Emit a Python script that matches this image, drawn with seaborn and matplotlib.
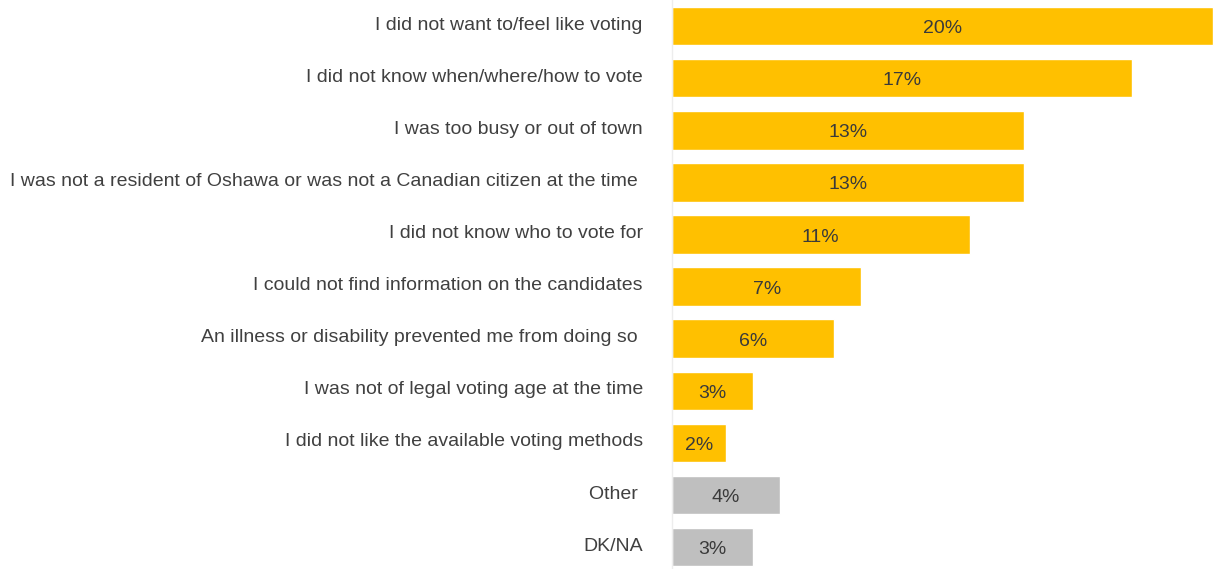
import matplotlib
matplotlib.use("Agg")
import matplotlib.pyplot as plt
import matplotlib.transforms as mtransforms
import seaborn as sns
import pandas as pd

reasons = [
    "I did not want to/feel like voting",
    "I did not know when/where/how to vote",
    "I was too busy or out of town",
    "I was not a resident of Oshawa or was not a Canadian citizen at the time ",
    "I did not know who to vote for",
    "I could not find information on the candidates",
    "An illness or disability prevented me from doing so ",
    "I was not of legal voting age at the time",
    "I did not like the available voting methods",
    "Other ",
    "DK/NA",
]
shares = [20, 17, 13, 13, 11, 7, 6, 3, 2, 4, 3]
bar_colors = ["#FFC000"] * 9 + ["#BFBFBF"] * 2

sns.set_theme(style="white")
plt.rcParams["font.family"] = ["Liberation Sans", "DejaVu Sans"]

df = pd.DataFrame({"reason": reasons, "share": shares})

fig = plt.figure(figsize=(12.14, 5.69), dpi=100)
ax = fig.add_axes([672 / 1214, 0, 542 / 1214, 1])

sns.barplot(data=df, y="reason", x="share", hue="reason",
            palette=bar_colors, legend=False, orient="h",
            width=0.74, saturation=1, ax=ax)

ax.set_xlim(0, 20.04)
ax.set_ylim(10.42, -0.5)
ax.set_xlabel("")
ax.set_ylabel("")
ax.set_xticks([])
ax.tick_params(axis="y", length=0, pad=21, labelsize=14, labelcolor="#404040")

# nudge category labels slightly upward
shift = mtransforms.ScaledTranslation(0, 3 / 100, fig.dpi_scale_trans)
for lbl in ax.get_yticklabels():
    lbl.set_transform(lbl.get_transform() + shift)

for s in ["top", "right", "bottom"]:
    ax.spines[s].set_visible(False)
ax.spines["left"].set_color("#EDEDED")
ax.spines["left"].set_linewidth(1)

for i, v in enumerate(shares):
    ax.text(v / 2, i + 0.05, f"{v}%", ha="center", va="center",
            fontsize=14, color="#3A3A3A")

fig.savefig("out.png", dpi=100, facecolor="white")
